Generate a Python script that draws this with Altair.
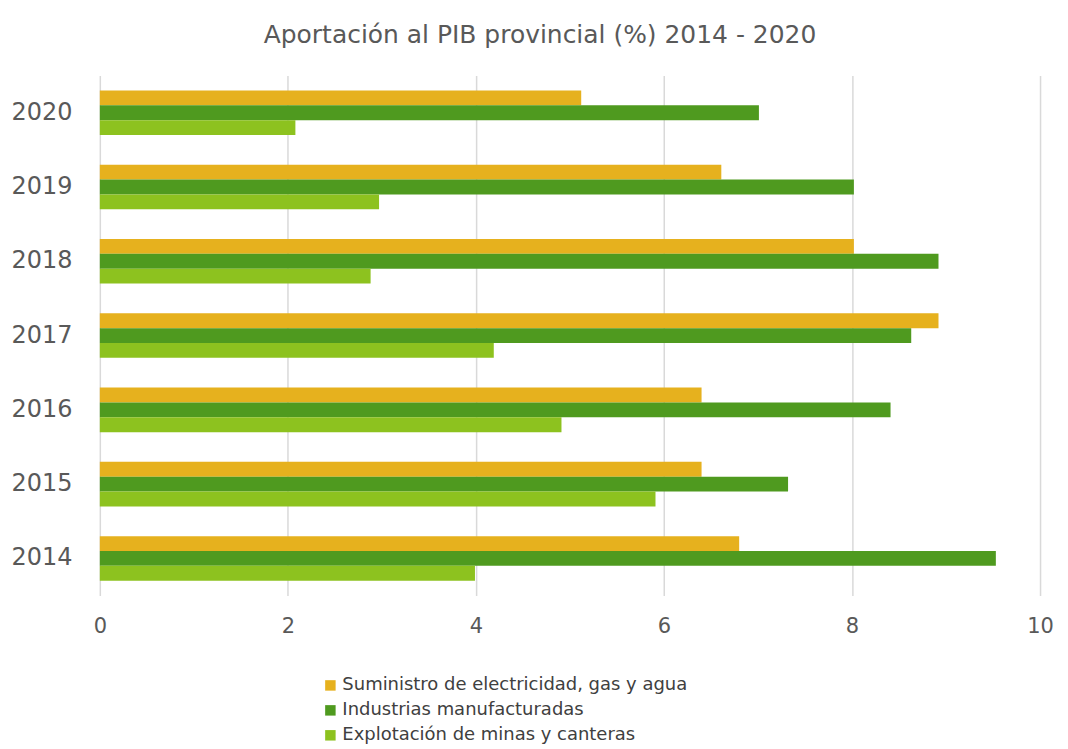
import altair as alt
import pandas as pd

years = ["2020", "2019", "2018", "2017", "2016", "2015", "2014"]
series = ["Suministro de electricidad, gas y agua",
          "Industrias manufacturadas",
          "Explotación de minas y canteras"]
suministro = [5.12, 6.61, 8.02, 8.92, 6.40, 6.40, 6.80]
industrias = [7.01, 8.02, 8.92, 8.63, 8.41, 7.32, 9.53]
explotacion = [2.08, 2.97, 2.88, 4.19, 4.91, 5.91, 3.99]
colors = ["#E6B11E", "#4F9A1F", "#8DC21F"]

rows = []
for i, y in enumerate(years):
    for s, vals in zip(series, [suministro, industrias, explotacion]):
        rows.append({"Año": y, "Serie": s, "Valor": vals[i]})
df = pd.DataFrame(rows)

chart = alt.Chart(df).mark_bar().encode(
    y=alt.Y("Año:N", sort=years, title=None,
            scale=alt.Scale(paddingInner=0.4, paddingOuter=0.2),
            axis=alt.Axis(domain=False, ticks=False, labelFontSize=24,
                          labelColor="#595959", labelPadding=28,
                          labelFont="DejaVu Sans")),
    yOffset=alt.YOffset("Serie:N", sort=series),
    x=alt.X("Valor:Q", title=None,
            scale=alt.Scale(domain=[0, 10]),
            axis=alt.Axis(values=[0, 2, 4, 6, 8, 10], domain=False, ticks=False,
                          labelFlush=False, labelAlign="center",
                          labelFontSize=21, labelColor="#595959", labelPadding=20,
                          labelFont="DejaVu Sans", gridColor="#D9D9D9", gridWidth=1.5)),
    color=alt.Color("Serie:N", sort=series,
                    scale=alt.Scale(domain=series, range=colors),
                    legend=alt.Legend(title=None, orient="none", legendX=222, legendY=602,
                                      symbolType="square", symbolSize=110,
                                      symbolStrokeWidth=0, labelLimit=600,
                                      labelFont="DejaVu Sans",
                                      labelFontSize=18, labelColor="#404040",
                                      rowPadding=7, labelOffset=3)),
).properties(
    width=942, height=521,
    title=alt.TitleParams("Aportación al PIB provincial (%) 2014 - 2020",
                          fontSize=25, font="DejaVu Sans", fontWeight="normal",
                          color="#595959", offset=28, dx=-30),
    autosize=alt.AutoSizeParams(type="none"),
    padding={"left": 92, "top": 67, "right": 20, "bottom": 150},
).configure_view(stroke=None)

chart.save("out.html", embed_options={"renderer": "svg", "actions": False})
